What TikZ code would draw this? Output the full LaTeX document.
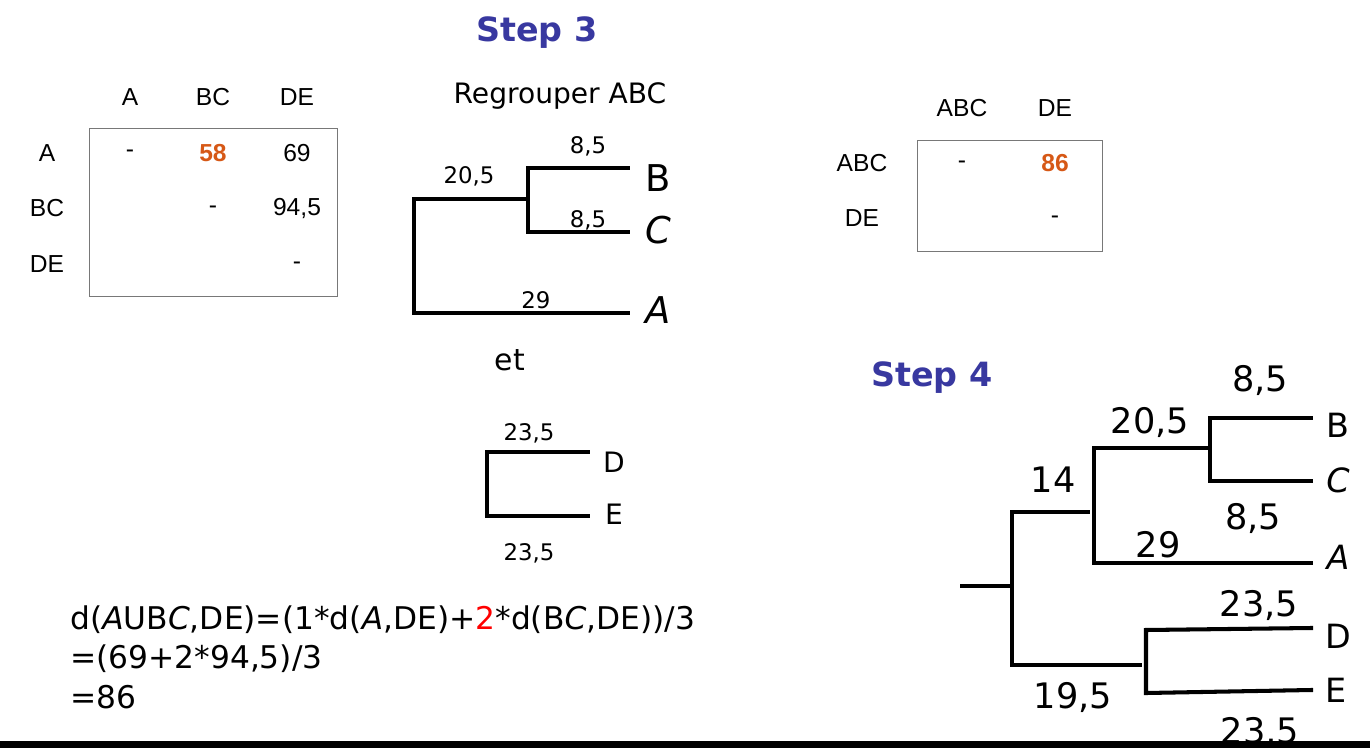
\documentclass[tikz,border=0pt]{standalone}
\usepackage{fontspec}
\setmainfont{Liberation Sans}
\newfontfamily\comic{DejaVu Sans}
\usetikzlibrary{positioning,calc}
\definecolor{stepblue}{RGB}{56,56,160}
\definecolor{hotorange}{RGB}{214,88,22}
\definecolor{boxgray}{RGB}{120,120,120}

\begin{document}
\begin{tikzpicture}[x=0.02cm,y=-0.02cm,
    tbl/.style={font=\fontsize{14}{16}\selectfont},
    hot/.style={font=\fontsize{14}{16}\selectfont\bfseries,text=hotorange},
    steplbl/.style={font=\comic\fontsize{19}{22}\selectfont\bfseries,text=stepblue},
    branch/.style={line width=2.3pt,line cap=rect,line join=miter},
    len/.style={font=\comic\fontsize{13}{15}\selectfont},
    biglen/.style={font=\comic\fontsize{20}{24}\selectfont},
    bigleaf/.style={font=\comic\fontsize{21}{24}\selectfont},
    leaf/.style={font=\comic\fontsize{16}{19}\selectfont},
    midleaf/.style={font=\comic\fontsize{19}{22}\selectfont}]
  \useasboundingbox (0,0) rectangle (1370,748);

  \node[steplbl] (step3) at (537,33) {Step 3};
  \node[steplbl] (step4) at (932,378) {Step 4};

  % distance table, step 3
  \draw[boxgray] (89,128) rectangle (337,296);
  \node[tbl] (hA) at (130,97) {A};
  \node[tbl] (hBC) at (213,97) {BC};
  \node[tbl] (hDE) at (297,97) {DE};
  \node[tbl] (rA) at (47,153) {A};
  \node[tbl] (rBC) at (47,208) {BC};
  \node[tbl] (rDE) at (47,264) {DE};
  \node[tbl] at (130,154) {-};
  \node[hot] at (213,153) {58};
  \node[tbl] at (297,153) {69};
  \node[tbl] at (213,210) {-};
  \node[tbl] at (297,208) {94,5};
  \node[tbl] at (297,266) {-};

  % tree ABC
  \node[font=\comic\fontsize{16}{19}\selectfont] (regroup) at (560,96) {Regrouper ABC};
  \coordinate (abcA) at (414,313);
  \coordinate (abcTop) at (414,199);
  \coordinate (bcMid) at (528,199);
  \coordinate (bcB) at (528,168);
  \coordinate (bcC) at (528,232);
  \coordinate (tipB) at (628,168);
  \coordinate (tipC) at (628,232);
  \coordinate (tipA) at (628,313);
  \draw[branch] (tipA) -- (abcA) -- (abcTop) -- (bcMid);
  \draw[branch] (tipB) -- (bcB) -- (bcC) -- (tipC);
  \node[bigleaf] (lB) at (658,178) {B};
  \node[bigleaf] (lC) at (658,230) {\textit{C}};
  \node[bigleaf] (lA) at (658,310) {\textit{A}};
  \node[len] at (588,146) {8,5};
  \node[len] at (469,176) {20,5};
  \node[len] at (588,220) {8,5};
  \node[len] at (536,300) {29};

  \node[font=\comic\fontsize{17}{20}\selectfont] (et) at (510,360) {et};

  % tree DE
  \coordinate (deD) at (487,452);
  \coordinate (deE) at (487,516);
  \coordinate (tipD) at (588,452);
  \coordinate (tipE) at (588,516);
  \draw[branch] (tipD) -- (deD) -- (deE) -- (tipE);
  \node[leaf] (lD) at (614,462) {D};
  \node[leaf] (lE) at (614,514) {E};
  \node[len] at (529,433) {23,5};
  \node[len] at (529,553) {23,5};

  % formula
  \node[font=\comic\fontsize{17.8}{22.5}\selectfont,anchor=north west,align=left,inner sep=0pt] (calc) at (70,605)
    {d(\textit{A}UB\textit{C},DE)=(1*d(\textit{A},DE)+\textcolor{red}{2}*d(B\textit{C},DE))/3\\
     =(69+2*94,5)/3\\
     =86};

  % distance table, step 4
  \draw[boxgray] (917,140) rectangle (1102,251);
  \node[tbl] (hABC) at (962,108) {ABC};
  \node[tbl] (hDE2) at (1055,108) {DE};
  \node[tbl] (rABC) at (862,163) {ABC};
  \node[tbl] (rDE2) at (862,218) {DE};
  \node[tbl] at (962,165) {-};
  \node[hot] at (1055,163) {86};
  \node[tbl] at (1055,220) {-};

  % tree step 4
  \coordinate (stub) at (962,586);
  \coordinate (rootM) at (1012,586);
  \coordinate (rootT) at (1012,512);
  \coordinate (rootB) at (1012,665);
  \coordinate (abcJ) at (1088,512);
  \coordinate (abcV) at (1094,448);
  \coordinate (abcW) at (1094,563);
  \coordinate (bcJ) at (1208,448);
  \coordinate (bcV) at (1210,418);
  \coordinate (bcW) at (1210,481);
  \coordinate (deJ) at (1140,665);
  \coordinate (deV) at (1146,630);
  \coordinate (deW) at (1146,693);
  \coordinate (endB) at (1311,418);
  \coordinate (endC) at (1311,481);
  \coordinate (endA) at (1311,563);
  \coordinate (endD) at (1311,628);
  \coordinate (endE) at (1311,690);
  \draw[branch] (stub) -- (rootM);
  \draw[branch] (abcJ) -- (rootT) -- (rootB) -- (deJ);
  \draw[branch] (bcJ) -- (abcV) -- (abcW) -- (endA);
  \draw[branch] (endB) -- (bcV) -- (bcW) -- (endC);
  \draw[branch] (endD) -- (deV) -- (deW) -- (endE);
  \node[midleaf] (fB) at (1338,425) {B};
  \node[midleaf] (fC) at (1338,480) {\textit{C}};
  \node[midleaf] (fA) at (1338,557) {\textit{A}};
  \node[midleaf] (fD) at (1338,636) {D};
  \node[midleaf] (fE) at (1336,690) {E};
  \node[biglen] at (1260,380) {8,5};
  \node[biglen] at (1150,422) {20,5};
  \node[biglen] at (1053,480) {14};
  \node[biglen] at (1253,518) {8,5};
  \node[biglen] at (1158,545) {29};
  \node[biglen] at (1259,605) {23,5};
  \node[biglen] at (1073,697) {19,5};
  \node[biglen] at (1260,732) {23,5};

  \fill (0,741) rectangle (1370,748);
\end{tikzpicture}
\end{document}
